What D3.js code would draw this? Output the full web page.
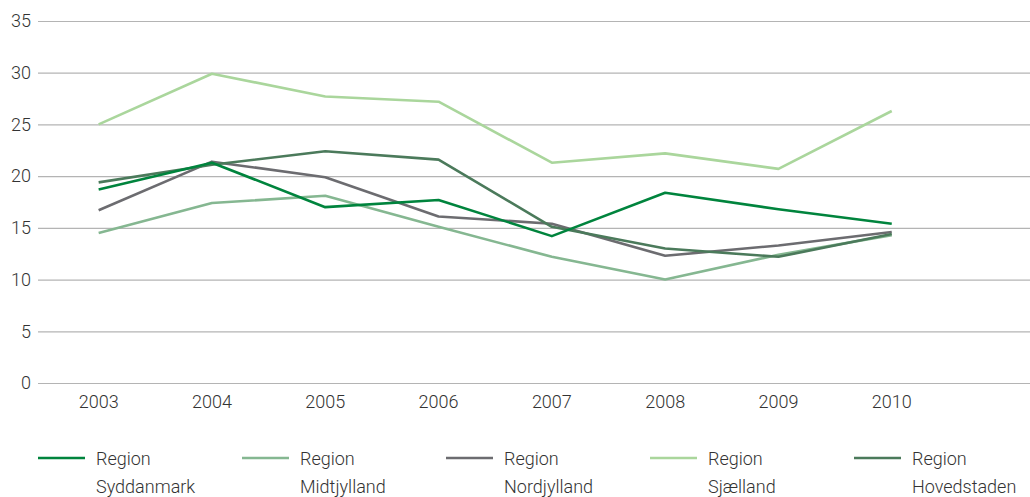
<!DOCTYPE html>
<html>
<head>
<meta charset="utf-8">
<script src="https://cdn.jsdelivr.net/npm/d3@7"></script>
<style>
  body { margin: 0; background: #fff; }
  text { font-family: Roboto, "Noto Sans", sans-serif; font-weight: 300; fill: #333; }
</style>
</head>
<body>
<svg id="chart" width="1030" height="497"></svg>
<script>
// data
var years = ["2003", "2004", "2005", "2006", "2007", "2008", "2009", "2010"]
var yTicks = [0, 5, 10, 15, 20, 25, 30, 35]

var syddanmark  = [18.7, 21.3, 17.0, 17.7, 14.2, 18.4, 16.8, 15.4]
var midtjylland = [14.5, 17.4, 18.1, 15.1, 12.2, 10.0, 12.4, 14.3]
var nordjylland = [16.7, 21.4, 19.9, 16.1, 15.4, 12.3, 13.3, 14.6]
var sjaelland   = [25.0, 29.9, 27.7, 27.2, 21.3, 22.2, 20.7, 26.3]
var hovedstaden = [19.4, 21.1, 22.4, 21.6, 15.1, 13.0, 12.2, 14.4]

var series = [
  { name: ["Region", "Syddanmark"], values: syddanmark, color: "#00843d" },
  { name: ["Region", "Midtjylland"], values: midtjylland, color: "#85b791" },
  { name: ["Region", "Nordjylland"], values: nordjylland, color: "#6c6c70" },
  { name: ["Region", "Sjælland"], values: sjaelland, color: "#aad69c" },
  { name: ["Region", "Hovedstaden"], values: hovedstaden, color: "#4b7a5b" }
]

var svg = d3.select("#chart")
var mLeft = 38, mRight = 1030, mTop = 21, mBottom = 383

var x = d3.scaleBand().domain(years).range([42, 42 + 8 * 113.3]).padding(0)
var y = d3.scaleLinear().domain([0, 35]).range([mBottom, mTop])

// gridlines
svg.append("g")
  .attr("transform", "translate(" + mLeft + ",0)")
  .call(d3.axisLeft(y).tickValues(yTicks).tickSize(-(mRight - mLeft)).tickPadding(7))
  .call(function(g) {
    g.select(".domain").remove()
    g.selectAll("line").attr("stroke", "#b4b4b4").attr("stroke-width", 1.2)
    g.selectAll("text").attr("font-size", 18).attr("fill", "#333")
  })

// x labels
svg.append("g")
  .attr("transform", "translate(0," + mBottom + ")")
  .call(d3.axisBottom(x).tickSize(0).tickPadding(12))
  .call(function(g) {
    g.select(".domain").remove()
    g.selectAll("text").attr("font-size", 18).attr("fill", "#333")
  })

var line = d3.line()
  .x(function(d, i) { return x(years[i]) + x.bandwidth() / 2 })
  .y(function(d) { return y(d) })

// draw order so the darker lines sit on top like the reference
var order = [3, 1, 2, 4, 0]
order.forEach(function(k) {
  var s = series[k]
  svg.append("path")
    .datum(s.values)
    .attr("d", line)
    .attr("fill", "none")
    .attr("stroke", s.color)
    .attr("stroke-width", 2.6)
    .attr("stroke-linejoin", "round")
})

// legend
var legend = svg.append("g").attr("transform", "translate(38,458)")
series.forEach(function(s, i) {
  var g = legend.append("g").attr("transform", "translate(" + (i * 204) + ",0)")
  g.append("line").attr("x1", 0).attr("x2", 47).attr("y1", 0).attr("y2", 0)
    .attr("stroke", s.color).attr("stroke-width", 2.6)
  g.append("text").attr("x", 58).attr("y", 7).attr("font-size", 18).text(s.name[0])
  g.append("text").attr("x", 58).attr("y", 35).attr("font-size", 18).text(s.name[1])
})
</script>
</body>
</html>
